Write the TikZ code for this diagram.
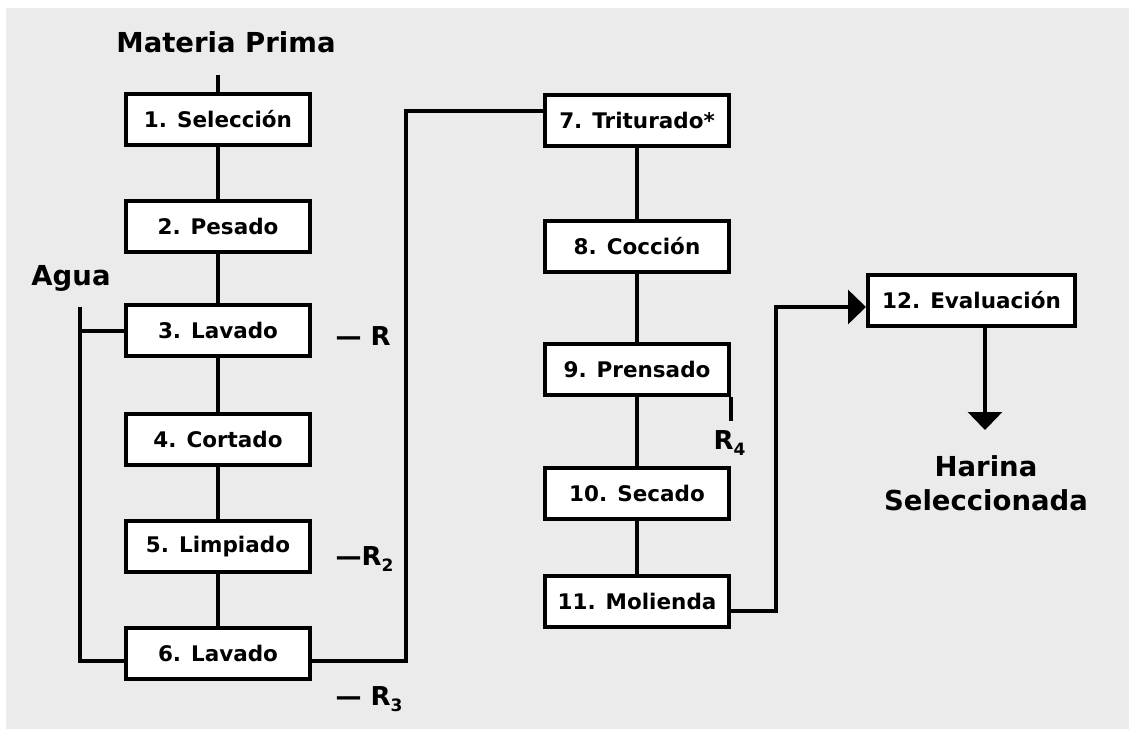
\documentclass[tikz,border=0pt]{standalone}
\usepackage{fontspec}
\setmainfont{DejaVu Sans}
\usetikzlibrary{arrows.meta}

\definecolor{fondo}{HTML}{EBEBEB}
\newcommand{\boxfont}{\fontsize{21.5}{24}\selectfont\bfseries}
\newcommand{\titfont}{\fontsize{27.5}{34}\selectfont\bfseries}
\newcommand{\rfont}{\fontsize{26}{28}\selectfont\bfseries}
\newcommand{\rsub}[1]{\raisebox{-0.45ex}{\fontsize{17}{17}\selectfont #1}}

\tikzset{
  paso/.style={draw, line width=4pt, fill=white, minimum width=184pt,
    minimum height=51pt, inner sep=0pt, font=\boxfont},
  enlace/.style={line width=4pt},
  largo/.style={line width=3.2pt},
  punta/.style={-{Triangle[width=34pt,length=18pt]}}
}

\begin{document}
\begin{tikzpicture}[x=1pt,y=-1pt]

            \useasboundingbox (0,0) rectangle (1129,729);
            \fill[white] (0,0) rectangle (1129,729);
            \fill[fondo] (6,8) rectangle (1129,729);

            % primera columna
            \node[font=\titfont] (mp) at (226,42) {Materia Prima};
            \coordinate (mpin) at (218,75);
            \node[paso] (sel) at (218,119) {1. Selección};
            \node[paso] (pes) at (218,226) {2. Pesado};
            \node[paso] (lav) at (218,330.5) {3. Lavado};
            \node[paso] (cor) at (218,439.5) {4. Cortado};
            \node[paso] (lim) at (218,546.5) {5. Limpiado};
            \node[paso] (lavb) at (218,653) {6. Lavado};

            \draw[enlace] (mpin) -- (sel);
            \draw[enlace] (sel) -- (pes);
            \draw[enlace] (pes) -- (lav);
            \draw[enlace] (lav) -- (cor);
            \draw[enlace] (cor) -- (lim);
            \draw[enlace] (lim) -- (lavb);

            % agua
            \node[font=\titfont] (agua) at (71,278) {Agua};
            \coordinate (aguain) at (80,307);
            \draw[enlace] (aguain) |- ([yshift=-8pt]lavb.west);
            \draw[enlace] (lav.west) -- (lav.west -| aguain);

            % residuos
            \node[anchor=base west, font=\rfont] (r1) at (332,345) {— R};
            \node[anchor=base west, font=\rfont] (r2) at (332,565) {—R\rsub{2}};
            \node[anchor=base west, font=\rfont] (r3) at (332,705) {— R\rsub{3}};

            % segunda columna
            \coordinate (giro) at (406,111);
            \node[paso] (tri) at (637,120) {7. Triturado*};
            \node[paso] (coc) at (637,246) {8. Cocción};
            \node[paso] (pre) at (637,369) {9. Prensado};
            \node[paso] (sec) at (637,493.5) {10. Secado};
            \node[paso] (mol) at (637,601) {11. Molienda};

            \draw[largo] ([yshift=-8pt]lavb.east) -| (giro) -- (giro -| tri.west);
            \draw[enlace] (tri) -- (coc);
            \draw[enlace] (coc) -- (pre);
            \draw[enlace] (pre) -- (sec);
            \draw[enlace] (sec) -- (mol);

            \coordinate (r4in) at (729,421);
            \draw[largo] (pre.south east) -- (pre.south east |- r4in);
            \node[anchor=base west, font=\rfont] (r4) at (710,449) {R\rsub{4}};

            % evaluacion
            \node[paso, minimum width=207pt] (eva) at (971.5,300) {12. Evaluación};
            \coordinate (jog) at (776,307);
            \draw[largo, punta] ([yshift=-10pt]mol.east) -| (jog) -- ([yshift=-7pt]eva.west);

            \node[font=\titfont, align=center] (har) at (986,483) {Harina\\Seleccionada};
            \coordinate (harin) at (985,430);
            \draw[largo, punta] (eva.south -| harin) -- (harin);

\end{tikzpicture}
\end{document}
